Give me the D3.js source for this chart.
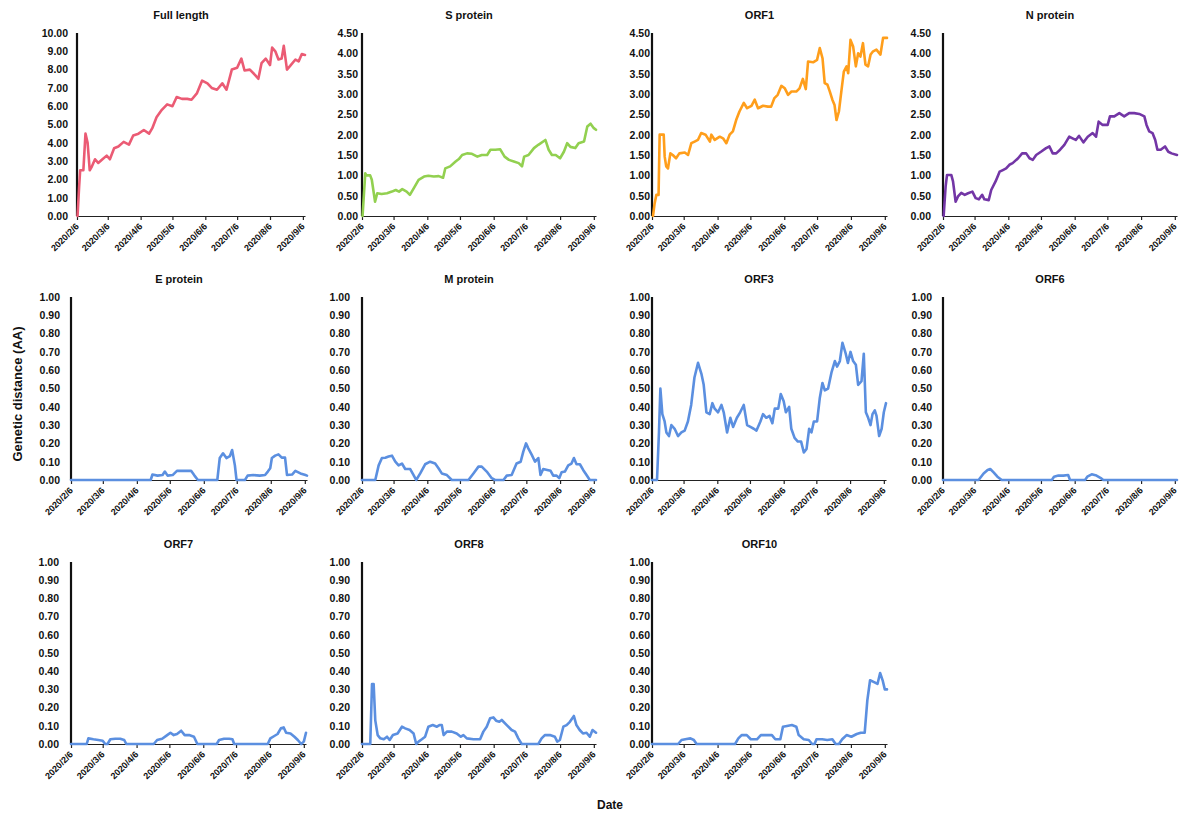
<!DOCTYPE html>
<html><head><meta charset="utf-8">
<script src="https://cdn.jsdelivr.net/npm/d3@7"></script>
<style>
body{margin:0;background:#fff}
svg{display:block}
text{font-family:"Liberation Sans",Arial,sans-serif;fill:#111}
</style>
</head><body>
<svg id="c" width="1179" height="814"></svg>
<script>
// ---------------- DATA ----------------
const panelTitles = ["Full length","S protein","ORF1","N protein","E protein","M protein","ORF3","ORF6","ORF7","ORF8","ORF10"];
const xTickLabels = ["2020/2/6","2020/3/6","2020/4/6","2020/5/6","2020/6/6","2020/7/6","2020/8/6","2020/9/6"];
const yMaxes = [10,4.5,4.5,4.5,1,1,1,1,1,1,1];
const ySteps = [1,0.5,0.5,0.5,0.1,0.1,0.1,0.1,0.1,0.1,0.1];
// series: [days since 2020/2/6, genetic distance]
const fullLength = [[0.5,0],[2,1.6],[3,2.5],[6,2.5],[8,4.5],[10,4.0],[12,2.5],[14,2.7],[17,3.1],[20,2.9],[24,3.1],[28,3.3],[31,3.1],[35,3.7],[39,3.8],[44,4.05],[49,3.9],[53,4.4],[58,4.5],[63,4.7],[68,4.5],[71,4.8],[75,5.4],[80,5.8],[85,6.1],[90,6.0],[94,6.5],[99,6.4],[104,6.4],[108,6.35],[113,6.7],[118,7.4],[123,7.25],[127,7.0],[132,6.9],[137,7.25],[141,6.9],[146,8.0],[151,8.1],[155,8.6],[158,7.95],[163,8.0],[168,7.7],[171,7.5],[174,8.35],[178,8.6],[182,8.25],[184,9.2],[187,9.0],[190,8.55],[193,8.6],[195,9.3],[198,8.0],[201,8.2],[206,8.55],[209,8.45],[212,8.85],[215,8.8]];
const sProtein = [[0.5,0],[3,1.05],[4,1.0],[7.5,1.0],[9,0.89],[12,0.35],[14,0.56],[18,0.54],[23,0.56],[27.5,0.6],[31,0.64],[34,0.6],[37,0.66],[41,0.6],[44,0.52],[47.5,0.68],[52,0.89],[57,0.97],[61,0.99],[66,0.97],[70.5,0.98],[74.5,0.94],[76.5,1.17],[81,1.22],[86,1.34],[89,1.4],[92,1.5],[96.5,1.54],[101,1.53],[106,1.46],[110,1.5],[115,1.5],[118,1.63],[122.5,1.63],[127,1.64],[131,1.46],[135,1.38],[139.5,1.34],[144,1.3],[147,1.22],[149,1.46],[153,1.5],[158,1.67],[162,1.75],[168.5,1.87],[171.5,1.63],[174.5,1.5],[178,1.5],[182,1.42],[185.5,1.58],[188.5,1.79],[191.5,1.7],[196,1.67],[199,1.79],[204,1.83],[207,2.2],[210,2.27],[213,2.16],[215,2.12]];
const orf1 = [[0.9,0],[2.4,0.31],[4,0.52],[6,0.52],[7,2.0],[10.7,2.0],[11.6,1.46],[13,1.22],[14.6,1.17],[16.8,1.54],[19,1.5],[22,1.42],[25,1.54],[30,1.56],[33,1.5],[36,1.79],[39,1.83],[42,1.87],[45,2.04],[49,2.0],[53,1.83],[54.3,2.0],[57.4,1.87],[62,1.95],[65,1.91],[68,1.79],[71,2.0],[74,2.08],[77,2.36],[80,2.57],[84,2.78],[87,2.65],[91,2.71],[94,2.86],[97,2.65],[101.6,2.71],[106,2.69],[109,2.69],[112,2.9],[115,2.98],[118.4,3.2],[121.5,3.14],[124.5,2.98],[127.6,3.06],[132,3.06],[135,3.14],[138,3.37],[140.7,3.12],[142.8,3.8],[147.4,3.78],[151,3.84],[153.5,4.13],[156,3.88],[158,3.27],[160.5,3.23],[162.7,3.06],[165,2.86],[167,2.73],[168.8,2.36],[171,2.57],[173.4,3.1],[175.5,3.55],[178,3.68],[179.5,3.51],[181.6,4.33],[184,4.17],[186.5,3.68],[188.6,4.0],[190.7,3.92],[193,4.25],[195.3,3.72],[197.7,3.68],[200,3.97],[202.3,4.05],[205.3,4.09],[209,3.97],[211.4,4.38],[215,4.38]];
const nProtein = [[0.6,0],[2.4,0.72],[3.7,1.01],[7.6,1.01],[9.2,0.85],[11.6,0.35],[13.8,0.48],[16.8,0.57],[20,0.52],[23,0.56],[27,0.6],[30,0.44],[33,0.41],[36,0.52],[38,0.41],[42,0.39],[44.3,0.64],[48.3,0.85],[52,1.09],[55,1.13],[58,1.17],[61,1.26],[64,1.3],[69,1.42],[72.7,1.54],[76.4,1.54],[79.5,1.42],[82.5,1.38],[85.6,1.5],[90,1.58],[94.7,1.67],[97.8,1.71],[100.8,1.54],[104,1.54],[107.6,1.63],[111.5,1.75],[116,1.95],[119,1.91],[122,1.87],[125,1.97],[129,1.81],[133,1.95],[137.5,2.04],[140.6,1.95],[143,2.32],[146.7,2.24],[151.3,2.24],[153.4,2.45],[157.4,2.45],[162,2.53],[166.5,2.45],[171,2.53],[175.7,2.53],[180.3,2.51],[185,2.45],[187,2.24],[189.5,2.08],[192.5,2.04],[195,1.87],[197,1.63],[200,1.63],[204,1.71],[207,1.58],[210,1.54],[215,1.5]];
const eProtein = [[0,0],[72.6,0],[74.2,0.03],[78.8,0.024],[83.4,0.027],[85.5,0.046],[88,0.024],[92.6,0.027],[96.5,0.05],[101.8,0.05],[109.4,0.05],[112.5,0.024],[115.6,0],[133.3,0],[135.5,0.12],[138.5,0.146],[141.6,0.12],[144.7,0.13],[146.8,0.164],[149.3,0.08],[150.8,0],[158.5,0],[160.9,0.024],[166,0.027],[172,0.024],[176.8,0.027],[179.3,0.046],[181.5,0.064],[183,0.12],[186,0.133],[189,0.14],[192,0.122],[195,0.122],[196.8,0.027],[201.4,0.03],[204.4,0.05],[209,0.036],[213.6,0.027],[215,0.024]];
const mProtein = [[0,0],[12.2,0],[15.3,0.08],[18.3,0.12],[21.4,0.122],[24.4,0.128],[27.5,0.133],[30.6,0.1],[33.6,0.08],[36.7,0.09],[39.7,0.06],[44.3,0.06],[47.4,0.027],[49.8,0],[53.5,0.036],[58,0.086],[62.6,0.1],[67.2,0.09],[70.3,0.064],[73.3,0.036],[78,0.027],[82.5,0],[97.8,0],[102.4,0.036],[107,0.073],[110,0.073],[114.6,0.046],[119.2,0.01],[122.2,0],[130,0],[133,0.024],[137.5,0.027],[142,0.09],[145.8,0.1],[148.2,0.155],[150.7,0.2],[152.8,0.173],[156,0.137],[159,0.1],[162,0.12],[164,0.027],[166.5,0.06],[170.2,0.055],[173.3,0.05],[175.7,0.024],[178.8,0.024],[181.2,0.01],[183.4,0.042],[186.4,0.046],[189.5,0.08],[192.5,0.09],[194.7,0.12],[197.1,0.086],[200.2,0.086],[203.2,0.055],[206.3,0.027],[209.3,0],[215,0]];
const orf3 = [[0,0],[4.6,0],[6.4,0.26],[7.7,0.5],[9.5,0.36],[11.6,0.32],[13.2,0.26],[15.6,0.24],[17.8,0.3],[20.8,0.28],[23.9,0.24],[27,0.26],[30,0.27],[33,0.32],[36,0.41],[39,0.56],[42.3,0.64],[45.4,0.58],[47.5,0.52],[50,0.37],[53,0.36],[55.5,0.42],[57.6,0.39],[60.7,0.37],[63.8,0.41],[65.9,0.37],[69,0.26],[72,0.34],[74.5,0.29],[78,0.34],[81,0.37],[84.3,0.41],[87.4,0.3],[90.4,0.29],[93.5,0.28],[96,0.27],[99.6,0.32],[102,0.36],[105,0.34],[108,0.35],[110.6,0.31],[112.8,0.39],[116,0.39],[118.3,0.47],[121,0.43],[123,0.37],[126,0.4],[128,0.28],[131,0.23],[134,0.21],[137,0.21],[139.5,0.15],[142,0.17],[144.4,0.28],[146.5,0.26],[148.7,0.32],[151.7,0.32],[154.2,0.45],[156.6,0.53],[158.8,0.49],[161.8,0.5],[165,0.59],[168,0.65],[170,0.62],[172.6,0.65],[175,0.75],[178,0.69],[180,0.64],[182.4,0.7],[184.8,0.65],[187.3,0.63],[189.4,0.52],[192.5,0.54],[194.6,0.69],[196.5,0.37],[198.6,0.34],[200.8,0.3],[202.6,0.36],[204.7,0.38],[206.3,0.35],[208.7,0.24],[211,0.28],[213,0.37],[215,0.42]];
const orf6 = [[0,0],[32.7,0],[37.3,0.036],[41,0.055],[43.4,0.06],[46.5,0.042],[50,0.018],[54,0],[100,0],[102,0.018],[106,0.024],[110.6,0.024],[115,0.027],[116.7,0],[130.5,0],[132.6,0.018],[136.6,0.031],[141,0.024],[145,0.01],[147.3,0],[215,0]];
const orf7 = [[0,0],[14.4,0],[15.9,0.031],[20.5,0.026],[25,0.022],[29,0.018],[31.3,0],[33.4,0],[36,0.026],[40.5,0.029],[45,0.029],[48.7,0.022],[50.6,0],[75.7,0],[78.8,0.022],[83.4,0.029],[88,0.049],[91,0.062],[94,0.049],[97,0.055],[100.8,0.073],[104,0.049],[108,0.049],[112.5,0.04],[115.6,0],[133.3,0],[135.5,0.022],[140,0.029],[144.7,0.029],[147.7,0.026],[149.3,0],[180,0],[182.4,0.031],[186,0.044],[189,0.055],[192,0.086],[194.6,0.091],[196.8,0.062],[200.8,0.058],[204.4,0.04],[207.5,0.022],[210.6,0],[213,0.013],[215,0.062]];
const orf8 = [[0,0],[7.6,0],[9.2,0.33],[10.7,0.33],[12.2,0.13],[14.4,0.049],[16.8,0.031],[20,0.026],[23,0.04],[25.4,0.022],[28.4,0.049],[32.7,0.058],[36.7,0.095],[39.7,0.086],[43.7,0.077],[47.4,0.058],[49.8,0],[52,0.013],[55,0.026],[58,0.04],[61,0.095],[65,0.104],[68.8,0.095],[71.2,0.104],[73.3,0.104],[75,0.049],[78,0.068],[82.5,0.068],[87,0.058],[90.8,0.04],[93.2,0.049],[96.3,0.031],[102.4,0.026],[108.5,0.026],[111.5,0.068],[114.6,0.095],[117.7,0.141],[120.7,0.146],[123.2,0.128],[126.2,0.122],[128.4,0.132],[133,0.104],[137.5,0.077],[140.6,0.068],[143.6,0.031],[146.7,0],[162,0],[165,0.031],[168,0.049],[172.7,0.049],[177.2,0.04],[179.4,0.013],[181.8,0.022],[185,0.095],[188,0.104],[191,0.122],[194.7,0.154],[197,0.104],[200,0.077],[203,0.058],[206.3,0.062],[209.3,0.04],[211.8,0.077],[215,0.062]];
const orf10 = [[0,0],[23.9,0],[27,0.022],[31.6,0.027],[35.2,0.031],[38.3,0.022],[40.8,0],[76,0],[79,0.031],[82,0.049],[86.7,0.049],[90.4,0.026],[96,0.026],[99.6,0.049],[105,0.049],[109.7,0.049],[112.8,0.026],[117.4,0.026],[119.8,0.095],[123.5,0.099],[128,0.104],[132,0.095],[134.2,0.049],[138.8,0.026],[143.4,0.022],[146.5,0],[148.7,0],[150.5,0.026],[155.7,0.026],[160.3,0.022],[165,0.026],[168,0],[171,0],[174,0.026],[178,0.049],[182.4,0.04],[187.3,0.055],[191,0.062],[194.6,0.062],[197,0.24],[199.5,0.35],[203.2,0.34],[206.3,0.33],[208.7,0.39],[211,0.35],[213,0.3],[215,0.3]];
const seriesList = [fullLength,sProtein,orf1,nProtein,eProtein,mProtein,orf3,orf6,orf7,orf8,orf10];

// ---------------- STYLE / LAYOUT ----------------
const colors = ["#EB5B74","#92D050","#FF9E1B","#7336A6","#5B8FE0","#5B8FE0","#5B8FE0","#5B8FE0","#5B8FE0","#5B8FE0","#5B8FE0"];
const rowTop = [33,297,562], rowBottom = [216,480,744];
// [axisX, rightX, labelRightX]
const panelX = [[77,305,68],[362,596,358],[652,887,650],[943,1177,931],
                [71,307,60],[362,596,350],[652,886,650],[943,1177,932],
                [71,306,59],[362,596,350],[652,887,650]];

const svg = d3.select("#c");
const parseLabel = d3.timeParse("%Y/%-m/%-d");
const startDate = parseLabel(xTickLabels[0]);
const toDate = d => new Date(startDate.getTime() + d*864e5);
const tickDates = xTickLabels.map(parseLabel);

panelTitles.forEach((title,i)=>{
  const row = Math.floor(i/4);
  const [ax, rx, lx] = panelX[i];
  const top = rowTop[row], bottom = rowBottom[row];
  const x = d3.scaleTime().domain([startDate, toDate(215)]).range([ax, rx]);
  const y = d3.scaleLinear().domain([0, yMaxes[i]]).range([bottom, top]);
  const g = svg.append("g");

  // y axis labels
  const yTicks = d3.range(0, yMaxes[i] + 1e-9, ySteps[i]);
  const ya = g.append("g").attr("transform",`translate(${ax},0)`)
    .call(d3.axisLeft(y).tickValues(yTicks).tickFormat(d3.format(".2f")).tickSize(0).tickPadding(ax-lx));
  ya.select(".domain").remove();
  ya.selectAll("text").style("font-size","10.5px").style("font-weight","bold").attr("fill","#111");

  // x axis
  const xa = g.append("g").attr("transform",`translate(0,${bottom})`)
    .call(d3.axisBottom(x).tickValues(tickDates).tickFormat((d,k)=>xTickLabels[k]).tickSize(4).tickSizeOuter(0));
  xa.select(".domain").attr("stroke","#222").attr("stroke-width",1.2);
  xa.selectAll(".tick line").attr("stroke","#222").attr("stroke-width",1.2);
  xa.selectAll("text").attr("x",null).attr("y",null).attr("dy",null)
    .attr("transform","translate(2,11) rotate(-45)")
    .style("text-anchor","end").style("font-size","9px").style("font-weight","bold").attr("fill","#111");

  // y axis line
  g.append("line").attr("x1",ax).attr("x2",ax).attr("y1",y(yMaxes[i])).attr("y2",y(0))
    .attr("stroke","#111").attr("stroke-width",2.2);

  // series line
  const line = d3.line().x(d=>x(toDate(d[0]))).y(d=>y(d[1])).curve(d3.curveLinear);
  g.append("path").datum(seriesList[i]).attr("d",line)
    .attr("fill","none").attr("stroke",colors[i]).attr("stroke-width",2.6)
    .attr("stroke-linejoin","round").attr("stroke-linecap","round");

  // title
  g.append("text").attr("x",(ax+rx)/2-10).attr("y",top-14)
    .attr("text-anchor","middle").style("font-size","11px").style("font-weight","bold").text(title);
});

// axis titles
svg.append("text").attr("transform","translate(22,394) rotate(-90)")
  .attr("text-anchor","middle").style("font-size","13px").style("font-weight","bold")
  .text("Genetic distance (AA)");
svg.append("text").attr("x",610).attr("y",809).attr("text-anchor","middle")
  .style("font-size","12px").style("font-weight","bold").text("Date");
</script>
</body></html>
